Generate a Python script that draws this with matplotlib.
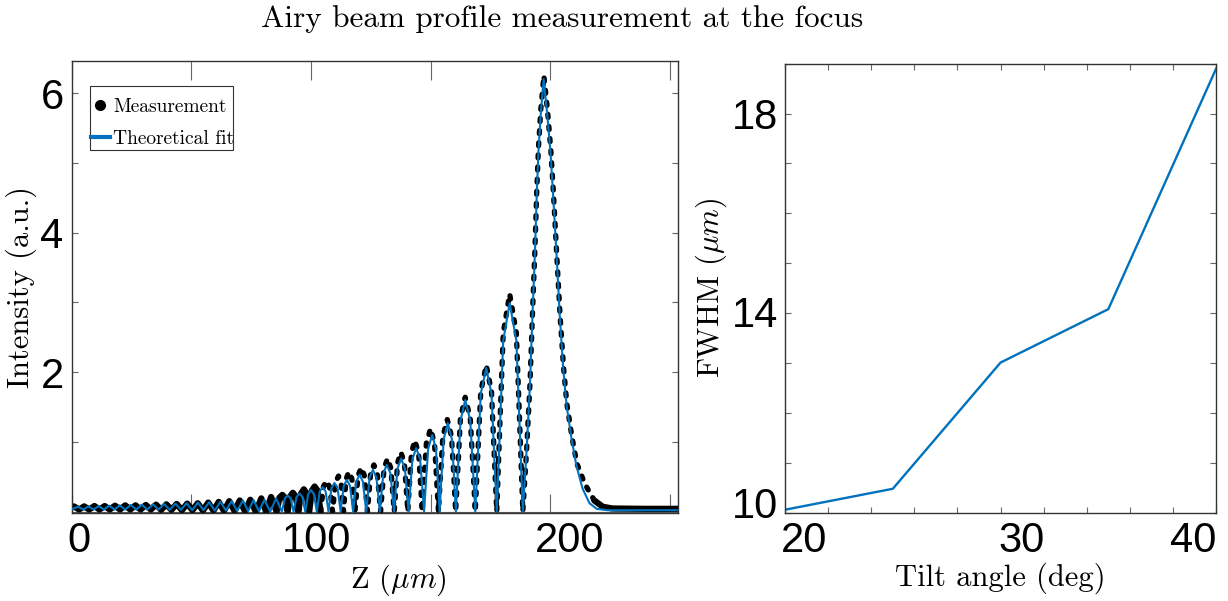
import matplotlib.pyplot as plt
from matplotlib.lines import Line2D
from matplotlib.patches import Rectangle
from matplotlib.transforms import ScaledTranslation

plt.rcParams['font.family'] = ['Liberation Sans', 'DejaVu Sans']
plt.rcParams['mathtext.fontset'] = 'cm'

meas_z = [0.0, 0.8, 3.0, 5.1, 7.2, 9.4, 11.5, 13.7, 15.8, 18.0, 20.1, 22.3, 24.4, 26.6,
          28.7, 30.9, 33.0, 35.2, 37.3, 39.5, 41.6, 43.8, 46.0, 48.2, 50.4, 52.6, 54.8,
          57.0, 59.2, 61.4, 63.6, 65.8, 68.0, 70.2, 72.4, 74.6, 76.9, 79.2, 81.2, 83.3,
          85.6, 86.2, 86.8, 88.0, 89.1, 89.7,
          90.2, 90.7, 91.3, 92.4, 93.55, 94.15,
          94.7, 95.25, 95.85, 97.0, 98.1, 98.65,
          99.2, 99.75, 100.35, 101.5, 102.75, 103.4,
          104.0, 104.6, 105.2, 106.4, 107.7, 108.4,
          109.0, 109.6, 110.25, 111.5, 112.55, 113.1,
          113.6, 114.1, 114.7, 115.8, 117.1, 117.8,
          118.4, 119.0, 119.7, 121.0, 122.3, 123.0,
          123.6, 124.25, 124.95, 126.3, 127.7, 128.4,
          129.1, 129.8, 130.55, 132.0, 133.4, 134.1,
          134.8, 135.5, 136.2, 137.6, 139.05, 139.8,
          140.5, 141.2, 142.0, 143.4, 145.0, 145.8,
          146.5, 147.3, 148.25, 150.0, 151.65, 152.5,
          153.3, 154.2, 155.15, 157.0, 158.75, 159.7,
          160.5, 161.5, 162.5, 164.5, 166.6, 167.7,
          168.7, 169.8, 171.0, 173.3, 175.5, 176.6,
          177.7, 179.0, 180.4, 183.1, 185.9, 187.3,
          188.6, 190.2, 191.6, 192.6, 193.7, 194.4, 195.1, 196.1, 197.4, 198.9, 200.3,
          201.4, 202.6, 204.2, 205.6, 207.0, 209.1, 211.2, 214.5, 218.5, 222.0, 226.0,
          240.0, 253.5]
meas_i = [0.06, 0.075, 0.03, 0.075, 0.03, 0.08, 0.03, 0.08, 0.03, 0.085, 0.03, 0.09, 0.03, 0.09,
          0.03, 0.095, 0.03, 0.10, 0.025, 0.105, 0.025, 0.11, 0.02, 0.115, 0.02, 0.12, 0.015,
          0.13, 0.015, 0.14, 0.01, 0.15, 0.01, 0.16, 0.005, 0.17, 0.0, 0.19, 0.0, 0.21,
          0.0, 0.10, 0.20, 0.24, 0.20, 0.10,
          0.0, 0.11, 0.22, 0.27, 0.22, 0.11,
          0.0, 0.13, 0.26, 0.32, 0.26, 0.13,
          0.0, 0.14, 0.30, 0.36, 0.30, 0.14,
          0.0, 0.18, 0.36, 0.44, 0.36, 0.18,
          0.0, 0.20, 0.42, 0.51, 0.42, 0.20,
          0.0, 0.23, 0.47, 0.57, 0.47, 0.23,
          0.0, 0.25, 0.52, 0.63, 0.52, 0.25,
          0.0, 0.27, 0.55, 0.67, 0.55, 0.27,
          0.0, 0.30, 0.62, 0.76, 0.62, 0.30,
          0.0, 0.34, 0.70, 0.85, 0.70, 0.34,
          0.0, 0.41, 0.84, 1.02, 0.84, 0.41,
          0.0, 0.48, 0.98, 1.19, 0.98, 0.48,
          0.0, 0.53, 1.08, 1.32, 1.08, 0.53,
          0.0, 0.66, 1.34, 1.64, 1.34, 0.66,
          0.0, 0.84, 1.72, 2.10, 1.72, 0.84,
          0.0, 1.25, 2.56, 3.12, 2.56, 1.25,
          0.0, 0.89, 1.84, 2.80, 3.80, 4.57, 5.19, 5.76, 6.25, 5.76, 5.19,
          4.57, 3.80, 2.80, 2.08, 1.55, 1.08, 0.69, 0.40, 0.16, 0.07, 0.045,
          0.04, 0.04]

# theoretical fit
fit_z = [0.0, 2.6, 4.7, 6.9, 9.0, 11.2, 13.4, 15.6, 17.8, 20.0, 22.3, 24.6, 26.9, 29.2,
         31.5, 33.9, 36.2, 38.6, 40.9, 43.3, 45.6, 48.0, 50.3, 52.7, 55.0, 57.4, 59.7,
         62.1, 64.4, 66.8, 69.1, 71.5, 73.7, 76.0, 78.2, 80.5, 82.9, 85.4,
         87.8, 88.4, 89.05, 90.3, 91.5, 92.1,
         92.7, 93.3, 93.95, 95.2, 96.4, 97.0,
         97.6, 98.2, 98.8, 100.0, 101.2, 101.8,
         102.4, 103.0, 103.65, 104.9, 106.1, 106.7,
         107.3, 107.9, 108.55, 109.8, 111.1, 111.8,
         112.4, 113.0, 113.7, 115.0, 116.3, 117.0,
         117.6, 118.25, 118.95, 120.3, 121.7, 122.4,
         123.1, 123.8, 124.5, 125.9, 127.35, 128.1,
         128.8, 129.5, 130.25, 131.7, 133.2, 134.0,
         134.7, 135.4, 136.2, 137.7, 139.25, 140.05,
         140.8, 141.6, 142.4, 144.0, 145.65, 146.5,
         147.3, 148.1, 149.0, 150.7, 152.25, 153.05,
         153.8, 154.6, 155.5, 157.2, 158.9, 159.8,
         160.6, 161.5, 162.55, 164.5, 166.6, 167.7,
         168.7, 169.8, 171.0, 173.3, 175.5, 176.6,
         177.7, 179.0, 180.4, 183.1, 185.9, 187.3,
         188.6, 190.2, 191.6, 192.6, 193.7, 194.4, 195.1, 196.1, 197.3, 198.8, 200.2,
         201.3, 202.6, 204.1, 205.5, 206.9, 209.0, 211.0, 213.6, 216.5, 219.5, 224.0,
         253.5]
fit_i = [0.035, 0.07, 0.03, 0.075, 0.03, 0.08, 0.03, 0.085, 0.03, 0.09, 0.03, 0.095, 0.03, 0.10,
         0.03, 0.105, 0.03, 0.11, 0.025, 0.115, 0.025, 0.12, 0.02, 0.13, 0.02, 0.135, 0.015,
         0.14, 0.015, 0.15, 0.01, 0.16, 0.01, 0.165, 0.005, 0.17, 0.0, 0.19,
         0.0, 0.09, 0.19, 0.23, 0.19, 0.09,
         0.0, 0.10, 0.21, 0.26, 0.21, 0.10,
         0.0, 0.12, 0.25, 0.31, 0.25, 0.12,
         0.0, 0.14, 0.29, 0.35, 0.29, 0.14,
         0.0, 0.16, 0.34, 0.41, 0.34, 0.16,
         0.0, 0.18, 0.37, 0.455, 0.37, 0.18,
         0.0, 0.21, 0.43, 0.53, 0.43, 0.21,
         0.0, 0.24, 0.49, 0.60, 0.49, 0.24,
         0.0, 0.27, 0.55, 0.67, 0.55, 0.27,
         0.0, 0.30, 0.62, 0.76, 0.62, 0.30,
         0.0, 0.36, 0.75, 0.91, 0.75, 0.36,
         0.0, 0.44, 0.90, 1.10, 0.90, 0.44,
         0.0, 0.51, 1.04, 1.27, 1.04, 0.51,
         0.0, 0.64, 1.31, 1.60, 1.31, 0.64,
         0.0, 0.82, 1.69, 2.06, 1.69, 0.82,
         0.0, 1.20, 2.45, 2.99, 2.45, 1.20,
         0.0, 0.89, 1.84, 2.78, 3.75, 4.52, 5.14, 5.70, 6.20, 5.70, 5.14,
         4.52, 3.75, 2.78, 2.05, 1.52, 1.04, 0.66, 0.33, 0.12, 0.04, 0.02,
         0.02]

# FWHM vs tilt angle
tilt = [20, 25, 30, 35, 40]
fwhm = [10.06, 10.48, 13.01, 14.08, 18.9]

blue = '#0072BD'
serif = 'cmr10'

fig = plt.figure(figsize=(12.28, 6.01), dpi=100)
ax1 = fig.add_axes([0.0586, 0.1464, 0.4935, 0.7521])
ax2 = fig.add_axes([0.6393, 0.1469, 0.3510, 0.7471])


def shift_labels(labels, offsets):
    # nudge tick labels by (dx, dy) pixels, like in the original export
    for lab, (dx, dy) in zip(labels, offsets):
        lab.set_transform(lab.get_transform() +
                          ScaledTranslation(dx / 100, dy / 100, fig.dpi_scale_trans))


# measurement: solid where the dots pile up, dotted on the steep lobes
lo = [k for k, z in enumerate(meas_z) if z <= 104.0]
mid = [k for k, z in enumerate(meas_z) if 104.0 <= z <= 218.5]
tail = [k for k, z in enumerate(meas_z) if z >= 218.5]
ax1.axhline(0, color='0.35', lw=0.8, zorder=1)
for idx in (lo, tail):
    ax1.plot([meas_z[k] for k in idx], [meas_i[k] for k in idx], color='k', lw=4.5,
             solid_joinstyle='round', solid_capstyle='round', zorder=2)
ax1.plot([meas_z[k] for k in mid], [meas_i[k] for k in mid], color='k', lw=3.8,
         dashes=(0.6, 1.7), dash_capstyle='round', zorder=2)
ax1.plot(fit_z, fit_i, color=blue, lw=1.5, zorder=3)

ax1.set_xlim(0, 253.5)
ax1.set_ylim(-0.02, 6.46)
ax1.set_xticks([0, 100, 200])
ax1.set_xticks([50, 150, 250], minor=True)
ax1.set_yticks([2, 4, 6])
ax1.set_yticks([1, 3, 5], minor=True)
ax1.tick_params(axis='x', which='both', direction='in', length=14, top=True,
                width=0.8, color='0.4', labelsize=30, pad=6)
ax1.tick_params(axis='y', which='both', direction='in', length=4, right=True,
                width=0.8, color='0.4', labelsize=30, pad=6)
ax1.set_xlabel(r'Z ($\mu m$)', fontfamily=serif, fontsize=22)
ax1.set_ylabel('Intensity (a.u.)', fontfamily=serif, fontsize=22)
ax1.xaxis.set_label_coords(0.538, -0.11)
ax1.yaxis.set_label_coords(-0.058, 0.5)
shift_labels(ax1.get_xticklabels(), [(7, 0), (6, 0), (20, 0)])

# narrow legend box drawn separately, the text runs right up to its edge
ax1.add_patch(Rectangle((0.0297, 0.803), 0.236, 0.1417, transform=ax1.transAxes,
                        facecolor='white', edgecolor='0.2', lw=0.8, zorder=4))
handles = [Line2D([], [], color='k', marker='o', ls='none', markersize=7),
           Line2D([], [], color=blue, lw=3)]
leg = ax1.legend(handles, ['Measurement', 'Theoretical fit'], loc='upper left',
                 bbox_to_anchor=(0.031, 0.918), borderaxespad=0, borderpad=0,
                 frameon=False, handlelength=1.0, handletextpad=0.15,
                 labelspacing=0.7, prop={'family': serif, 'size': 14})
leg.set_zorder(5)

ax2.plot(tilt, fwhm, color=blue, lw=1.7)
ax2.set_xlim(20, 40)
ax2.set_ylim(10, 19)
ax2.set_xticks([20, 30, 40])
ax2.set_xticks(range(22, 40, 2), minor=True)
ax2.set_yticks([10, 14, 18])
ax2.set_yticks([11, 12, 13, 15, 16, 17, 19], minor=True)
ax2.tick_params(which='both', direction='in', length=4.3, top=True, right=True,
                width=0.8, color='0.4', labelsize=30)
ax2.tick_params(axis='x', pad=6)
ax2.tick_params(axis='y', pad=5)
ax2.set_xlabel('Tilt angle (deg)', fontfamily=serif, fontsize=22)
ax2.set_ylabel(r'FWHM ($\mu m$)', fontfamily=serif, fontsize=22)
ax2.xaxis.set_label_coords(0.5, -0.112)
ax2.yaxis.set_label_coords(-0.13, 0.5)
shift_labels(ax2.get_xticklabels(), [(19, 0), (21, 0), (-23, 0)])
shift_labels(ax2.get_yticklabels(), [(0, 10), (0, 2), (0, 0)])

for ax in (ax1, ax2):
    for sp in ax.spines.values():
        sp.set_color('0.2')
        sp.set_linewidth(1.0)

fig.text(0.458, 0.968, 'Airy beam profile measurement at the focus',
         fontfamily=serif, fontsize=22.5, ha='center', va='center')

fig.savefig('out.png', dpi=100)
